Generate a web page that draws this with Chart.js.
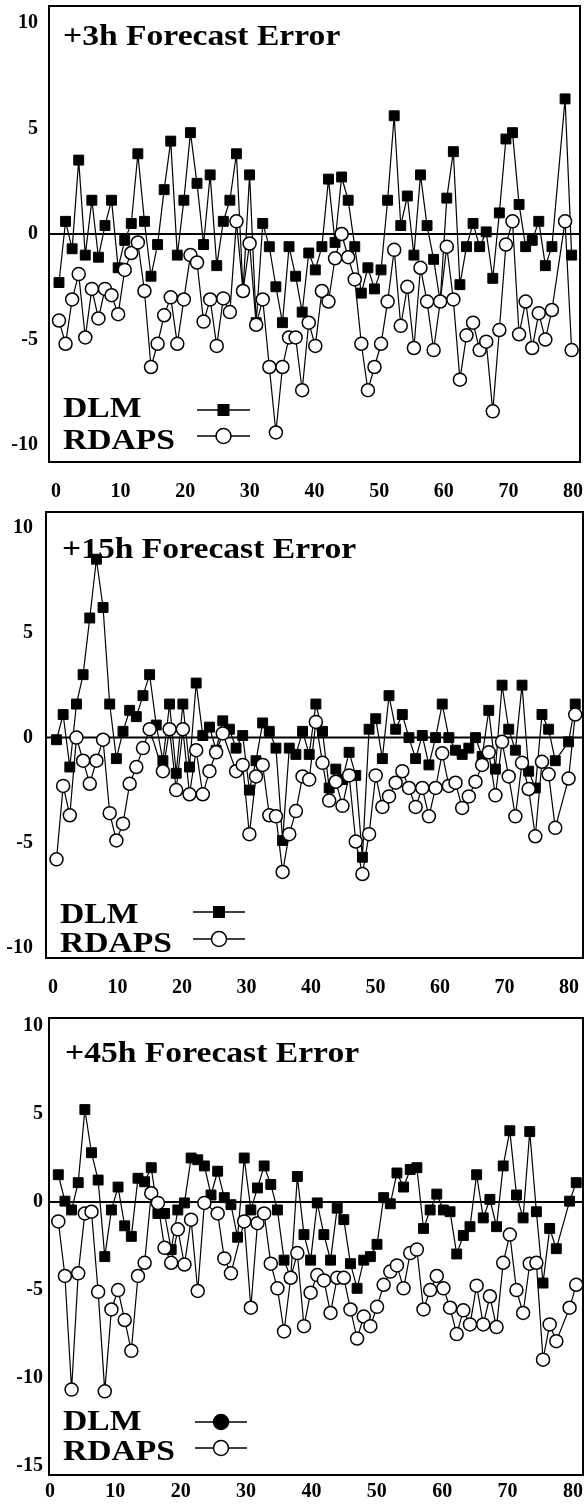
<!DOCTYPE html>
<html lang="en">
<head>
  <meta charset="UTF-8" />
  <title>Forecast Error - DLM vs RDAPS</title>
  <script src="https://cdn.jsdelivr.net/npm/chart.js"></script>
  <style>
    body { margin: 0; background: #fff; }
    #wrap { position: relative; width: 584px; height: 1511px; }
    canvas { position: absolute; left: 0; display: block; }
  </style>
</head>
<body>
  <div id="wrap">
    <canvas id="c3h" width="584" height="500" style="top:0px"></canvas>
    <canvas id="c15h" width="584" height="500" style="top:500px"></canvas>
    <canvas id="c45h" width="584" height="511" style="top:1000px"></canvas>
  </div>

  <script>
    // day index along the x axis
    const days = [1,2,3,4,5,6,7,8,9,10,11,12,13,14,15,16,17,18,19,20,
      21,22,23,24,25,26,27,28,29,30,31,32,33,34,35,36,37,38,39,40,
      41,42,43,44,45,46,47,48,49,50,51,52,53,54,55,56,57,58,59,60,
      61,62,63,64,65,66,67,68,69,70,71,72,73,74,75,76,77,78,79];
    const xTicks = [0, 10, 20, 30, 40, 50, 60, 70, 80];
    const yTicksSmall = [-10, -5, 0, 5, 10];
    const yTicksLarge = [-15, -10, -5, 0, 5, 10];
    const seriesNames = ['DLM', 'RDAPS'];
    const titles = ['+3h Forecast Error', '+15h Forecast Error', '+45h Forecast Error'];

    // +3h
    const dlm3h = [-2.3, 0.6, -0.7, 3.5, -1.0, 1.6, -1.1, 0.4, 1.6, -1.6,
      -0.3, 0.5, 3.8, 0.6, -2.0, -0.5, 2.1, 4.4, -1.0, 1.6,
      4.8, 2.4, -0.5, 2.8, -1.5, 0.6, 1.6, 3.8, -2.7, 2.8,
      -4.2, 0.5, -0.6, -2.5, -4.2, -0.6, -2.0, -3.7, -0.9, -1.7,
      -0.6, 2.6, -0.4, 2.7, 1.6, -0.6, -2.8, -1.6, -2.6, -1.7,
      1.6, 5.6, 0.4, 1.8, -1.0, 2.8, 0.4, -1.2, -3.2, 1.7,
      3.9, -2.4, -0.6, 0.5, -0.6, 0.1, -2.1, 1.0, 4.5, 4.8,
      1.4, -0.6, -0.3, 0.6, -1.5, -0.6, null, 6.4, -1.0];
    const rdaps3h = [-4.1, -5.2, -3.1, -1.9, -4.9, -2.6, -4.0, -2.6, -2.9, -3.8,
      -1.7, -0.9, -0.4, -2.7, -6.3, -5.2, -3.85, -3.0, -5.2, -3.1,
      -1.0, -1.35, -4.15, -3.1, -5.3, -3.05, -3.7, 0.6, -2.7, -0.45,
      -4.3, -3.1, -6.3, -9.4, -6.3, -4.9, -4.9, -7.4, -4.2, -5.3,
      -2.7, -3.2, -1.15, 0.0, -1.1, -2.15, -5.2, -7.4, -6.3, -5.2,
      -3.2, -0.75, -4.35, -2.5, -5.4, -1.6, -3.2, -5.5, -3.2, -0.6,
      -3.1, -6.9, -4.8, -4.2, -5.5, -5.1, -8.4, -4.55, -0.5, 0.6,
      -4.75, -3.2, -5.4, -3.75, -5.0, -3.6, null, 0.6, -5.5];

    // +15h
    const dlm15h = [-0.1, 1.1, -1.4, 1.6, 3.0, 5.7, 8.5, 6.2, 1.6, -1.0,
      0.3, 1.3, 1.0, 2.0, 3.0, 0.6, -1.1, 1.6, -1.7, 1.6,
      -1.4, 2.6, 0.1, 0.5, -0.6, 0.8, 0.4, -0.5, 0.1, -2.5,
      -1.1, 0.7, 0.3, -0.5, -4.9, -0.5, -0.8, 0.3, -0.8, 1.6,
      0.3, -2.4, -1.5, -2.0, -0.7, -1.8, -5.7, 0.4, 0.9, -1.0,
      2.0, 0.4, 1.1, 0.0, -1.0, 0.1, -1.3, 0.0, 1.6, 0.0,
      -0.6, -0.8, -0.5, 0.0, -0.9, 1.3, -1.5, 2.5, 0.4, -0.6,
      2.5, -1.6, -2.4, 1.1, 0.4, -1.1, null, -0.2, 1.6];
    const rdaps15h = [-5.8, -2.3, -3.7, 0.0, -1.1, -2.2, -1.1, -0.1, -3.6, -4.9,
      -4.1, -2.2, -1.4, -0.5, 0.4, null, -1.6, 0.4, -2.5, 0.4,
      -2.7, -0.6, -2.7, -1.6, -0.7, 0.2, null, -1.6, -1.3, -4.6,
      -1.85, -1.3, -3.7, -3.75, -6.4, -4.6, -3.5, -1.85, -2.0, 0.75,
      -1.2, -3.0, -2.1, -3.25, -1.8, -4.95, -6.5, -4.6, -1.8, -3.3,
      -2.8, -2.15, -1.6, -2.4, -3.3, -2.4, -3.75, -2.4, -0.75, -2.3,
      -2.15, -3.35, -2.8, -2.1, -1.3, -0.7, -2.75, -0.2, -1.85, -3.75,
      -1.2, -2.45, -4.7, -1.15, -1.75, -4.3, null, -1.95, 1.1];

    // +45h
    const dlm45h = [1.55, 0.05, -0.45, 1.1, 5.25, 2.8, 1.25, -3.1, -0.45, 0.85,
      -1.35, -1.95, 1.35, 1.15, 1.95, -0.65, -0.65, -2.7, -0.45, -0.05,
      2.5, 2.4, 2.05, 0.4, 1.75, 0.25, -0.15, -2.0, 2.5, -0.45,
      0.8, 2.05, 1.0, -0.45, -3.3, -4.3, 1.45, -1.85, -3.3, -0.05,
      -1.85, -3.3, -0.35, -1.0, -3.5, -4.9, -3.3, -3.1, -2.4, 0.25,
      -0.1, 1.65, 0.85, 1.85, 1.95, -1.5, -0.45, 0.45, -0.45, -0.55,
      -2.95, -1.9, -1.4, 1.55, -0.9, 0.15, -1.4, 2.05, 4.05, 0.4,
      -0.9, 4.0, -0.55, -4.6, -1.5, -2.65, null, 0.05, 1.1];
    const rdaps45h = [-1.1, -4.2, -10.65, -4.05, -0.65, -0.55, -5.1, -10.75, -6.1, -5.0,
      -6.7, -8.45, -4.2, -3.45, 0.5, -0.05, -2.6, -3.45, -1.55, -3.55,
      -1.0, -5.05, -0.05, null, -0.65, -3.2, -4.05, null, -1.1, -6.0,
      -1.2, -0.65, -3.5, -4.9, -7.35, -4.3, -2.9, -7.05, -5.15, -4.15,
      -4.45, -6.3, -4.3, -4.3, -6.1, -7.75, -6.5, -7.05, -5.95, -4.7,
      -3.95, -3.6, -4.9, -2.9, -2.7, -6.1, -5.0, -4.2, -4.9, -6.0,
      -7.5, -6.15, -6.95, -4.75, -6.95, -5.35, -7.1, -3.45, -1.85, -5.0,
      -6.3, -3.5, -3.45, -8.95, -6.95, -7.9, null, -6.0, -4.7];

    const serif = '"Liberation Serif", "Times New Roman", serif';

    // Times-like bold text, slightly widened like the original figure
    function wideText(ctx, text, x, y) {
      ctx.save();
      ctx.translate(x, y);
      ctx.scale(1.12, 1);
      ctx.fillText(text, 0, 0);
      ctx.restore();
    }

    const panelDecor = {
      id: 'panelDecor',
      beforeDatasetsDraw(chart, args, o) {
        const { ctx, chartArea: a, scales: { y } } = chart;
        const y0 = y.getPixelForValue(0);
        ctx.save();
        ctx.strokeStyle = '#000';
        ctx.lineWidth = 2;
        ctx.beginPath();
        ctx.moveTo(a.left, y0);
        ctx.lineTo(a.right, y0);
        ctx.stroke();
        ctx.restore();
      },
      afterDraw(chart, args, o) {
        const { ctx, chartArea: a } = chart;
        ctx.save();
        ctx.strokeStyle = '#000';
        ctx.fillStyle = '#000';
        ctx.lineWidth = 2;
        ctx.strokeRect(a.left, a.top, a.right - a.left, a.bottom - a.top);

        ctx.font = 'bold 30px ' + serif;
        ctx.textBaseline = 'alphabetic';
        wideText(ctx, o.title, a.left + o.titleX, a.top + o.titleY);

        seriesNames.forEach((name, k) => {
          wideText(ctx, name, a.left + 14, a.bottom - o.textY[k]);
          const ly = a.bottom - o.lineY[k];
          const mx = (o.lineX[0] + o.lineX[1]) / 2;
          ctx.lineWidth = 1.5;
          ctx.beginPath();
          ctx.moveTo(o.lineX[0], ly);
          ctx.lineTo(o.lineX[1], ly);
          ctx.stroke();
          if (k === 0 && o.dlmMarker === 'rect') {
            ctx.fillRect(mx - 6, ly - 6, 12, 12);
          } else {
            ctx.beginPath();
            ctx.arc(mx, ly, 7.5, 0, Math.PI * 2);
            ctx.fillStyle = k === 0 ? '#000' : '#fff';
            ctx.fill();
            ctx.stroke();
            ctx.fillStyle = '#000';
          }
        });
        ctx.restore();
      }
    };

    function points(values) {
      return values.map((v, i) => ({ x: days[i], y: v }));
    }

    function makePanel(id, p) {
      const tickFont = { family: serif, size: 20, weight: 'bold' };
      new Chart(document.getElementById(id), {
        type: 'line',
        data: {
          datasets: [
            {
              label: seriesNames[0], data: points(p.dlm), order: 2,
              borderColor: '#000', borderWidth: 1.2, spanGaps: true,
              pointStyle: 'rect', pointRadius: 7, pointBackgroundColor: '#000',
              pointBorderColor: '#000', pointBorderWidth: 1
            },
            {
              label: seriesNames[1], data: points(p.rdaps), order: 1,
              borderColor: '#000', borderWidth: 1.2, spanGaps: true,
              pointStyle: 'circle', pointRadius: 6.5, pointBackgroundColor: '#fff',
              pointBorderColor: '#000', pointBorderWidth: 1.5
            }
          ]
        },
        options: {
          responsive: false,
          animation: false,
          devicePixelRatio: 1,
          layout: { autoPadding: false, padding: { top: p.top, right: p.right, bottom: 0, left: 0 } },
          plugins: {
            legend: { display: false },
            tooltip: { enabled: false },
            panelDecor: p.decor
          },
          scales: {
            // day axis used by the data
            x: {
              type: 'linear', display: false, min: p.xMin, max: p.xMax
            },
            // labelled axis, placed where the original figure prints its numbers
            xl: {
              type: 'linear', position: 'bottom', min: p.lMin, max: p.lMax,
              grid: { display: false, drawTicks: false },
              border: { display: false },
              ticks: { color: '#000', font: tickFont, padding: p.xPad, maxRotation: 0 },
              afterBuildTicks: s => { s.ticks = xTicks.map(v => ({ value: v })); },
              afterFit: s => { s.height = p.xh; s.paddingLeft = 0; s.paddingRight = 0; }
            },
            y: {
              min: p.yMin, max: p.yMax,
              grid: { display: false, drawTicks: false },
              border: { display: false },
              ticks: { color: '#000', font: tickFont, padding: p.yPad, callback: v => String(v) },
              afterBuildTicks: s => { s.ticks = p.yTicks.map(v => ({ value: v })); },
              afterFit: s => { s.width = p.left; s.paddingTop = 0; s.paddingBottom = 0; }
            }
          }
        },
        plugins: [panelDecor]
      });
    }

    makePanel('c3h', {
      dlm: dlm3h, rdaps: rdaps3h, yTicks: yTicksSmall,
      yMin: -10.8, yMax: 10.8, xMin: -0.52, xMax: 80.27, lMin: -1.08, lMax: 81.08,
      top: 6, right: 4, left: 49, xh: 38, xPad: 18, yPad: 11,
      decor: { title: titles[0], titleX: 14, titleY: 39, dlmMarker: 'rect',
               textY: [45, 13], lineY: [52, 26], lineX: [197, 250] }
    });

    makePanel('c15h', {
      dlm: dlm15h, rdaps: rdaps15h, yTicks: yTicksSmall,
      yMin: -10.5, yMax: 10.75, xMin: -0.58, xMax: 80.17, lMin: -1.08, lMax: 82.17,
      top: 12, right: 1, left: 46, xh: 42, xPad: 18, yPad: 13,
      decor: { title: titles[1], titleX: 16, titleY: 46, dlmMarker: 'rect',
               textY: [35, 6], lineY: [46, 19], lineX: [193, 245] }
    });

    makePanel('c45h', {
      dlm: dlm45h, rdaps: rdaps45h, yTicks: yTicksLarge,
      yMin: -15.5, yMax: 10.45, xMin: -0.4, xMax: 80.02, lMin: -0.15, lMax: 81.53,
      top: 18, right: 1, left: 49, xh: 36, xPad: 5, yPad: 6,
      decor: { title: titles[2], titleX: 16, titleY: 44, dlmMarker: 'dot',
               textY: [45, 15], lineY: [53, 27], lineX: [195, 247] }
    });
  </script>
</body>
</html>
